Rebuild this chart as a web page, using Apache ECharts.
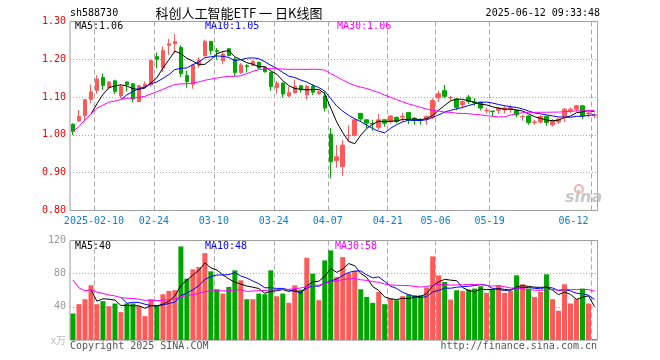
<!DOCTYPE html>
<html><head><meta charset="utf-8">
<script src="https://cdn.jsdelivr.net/npm/echarts@6/dist/echarts.min.js"></script>
<style>html,body{margin:0;padding:0;background:#fff}#c{width:660px;height:360px}</style>
</head><body><div id="c"></div>
<script>
const dates = ['2025-01-27','2025-02-05','2025-02-06','2025-02-07','2025-02-10','2025-02-11','2025-02-12','2025-02-13','2025-02-14','2025-02-17',
'2025-02-18','2025-02-19','2025-02-20','2025-02-21','2025-02-24','2025-02-25','2025-02-26','2025-02-27','2025-02-28','2025-03-03',
'2025-03-04','2025-03-05','2025-03-06','2025-03-07','2025-03-10','2025-03-11','2025-03-12','2025-03-13','2025-03-14','2025-03-17',
'2025-03-18','2025-03-19','2025-03-20','2025-03-21','2025-03-24','2025-03-25','2025-03-26','2025-03-27','2025-03-28','2025-03-31',
'2025-04-01','2025-04-02','2025-04-03','2025-04-07','2025-04-08','2025-04-09','2025-04-10','2025-04-11','2025-04-14','2025-04-15',
'2025-04-16','2025-04-17','2025-04-18','2025-04-21','2025-04-22','2025-04-23','2025-04-24','2025-04-25','2025-04-28','2025-04-29',
'2025-04-30','2025-05-06','2025-05-07','2025-05-08','2025-05-09','2025-05-12','2025-05-13','2025-05-14','2025-05-15','2025-05-16',
'2025-05-19','2025-05-20','2025-05-21','2025-05-22','2025-05-23','2025-05-26','2025-05-27','2025-05-28','2025-05-29','2025-05-30',
'2025-06-03','2025-06-04','2025-06-05','2025-06-06','2025-06-09','2025-06-10','2025-06-11','2025-06-12'];

const opens = [1.028,1.037,1.051,1.094,1.118,1.152,1.125,1.143,1.103,1.140,
1.135,1.088,1.128,1.133,1.207,1.177,1.237,1.241,1.231,1.157,
1.134,1.184,1.209,1.247,1.223,1.196,1.228,1.201,1.165,1.183,
1.184,1.192,1.178,1.165,1.125,1.137,1.103,1.112,1.130,1.106,
1.128,1.109,1.103,1.002,0.932,0.916,0.998,0.999,1.057,1.040,
1.030,1.020,1.040,1.035,1.046,1.047,1.059,1.044,1.040,1.042,
1.047,1.098,1.117,1.098,1.095,1.080,1.100,1.087,1.087,1.064,
1.063,1.065,1.066,1.068,1.065,1.048,1.050,1.033,1.034,1.049,
1.027,1.034,1.049,1.064,1.068,1.077,1.056,1.051];

const closes = [1.009,1.049,1.093,1.114,1.148,1.131,1.140,1.115,1.128,1.133,
1.095,1.130,1.134,1.197,1.200,1.223,1.241,1.247,1.162,1.141,
1.185,1.198,1.247,1.223,1.221,1.214,1.210,1.165,1.185,1.181,
1.194,1.177,1.167,1.128,1.137,1.108,1.112,1.128,1.119,1.128,
1.113,1.114,1.071,0.929,0.942,0.973,0.999,1.040,1.042,1.031,
1.029,1.040,1.031,1.050,1.035,1.049,1.040,1.038,1.039,1.049,
1.091,1.109,1.102,1.099,1.073,1.088,1.088,1.085,1.071,1.065,
1.062,1.071,1.071,1.072,1.053,1.049,1.033,1.034,1.049,1.033,
1.038,1.042,1.068,1.068,1.077,1.050,1.058,1.053];

const lows = [1.000,1.034,1.035,1.084,1.108,1.119,1.120,1.108,1.097,1.115,
1.086,1.087,1.124,1.128,1.177,1.166,1.212,1.216,1.153,1.125,
1.122,1.177,1.208,1.212,1.199,1.187,1.208,1.155,1.161,1.165,
1.182,1.174,1.165,1.117,1.110,1.099,1.100,1.108,1.112,1.093,
1.106,1.106,1.062,0.885,0.913,0.891,0.982,0.996,1.035,1.018,
1.011,1.013,1.022,1.031,1.031,1.035,1.029,1.027,1.027,1.027,
1.042,1.087,1.097,1.091,1.065,1.070,1.082,1.077,1.065,1.057,
1.049,1.056,1.057,1.059,1.047,1.038,1.027,1.027,1.031,1.024,
1.022,1.029,1.034,1.057,1.062,1.042,1.047,1.044];

const highs = [1.031,1.066,1.095,1.133,1.158,1.162,1.142,1.146,1.133,1.141,
1.137,1.132,1.141,1.199,1.218,1.234,1.254,1.266,1.237,1.170,
1.188,1.205,1.252,1.249,1.230,1.219,1.230,1.205,1.190,1.187,
1.198,1.194,1.180,1.167,1.143,1.139,1.128,1.146,1.132,1.132,
1.134,1.118,1.115,1.018,0.973,0.986,1.026,1.044,1.058,1.041,
1.040,1.056,1.041,1.053,1.049,1.059,1.060,1.047,1.044,1.051,
1.097,1.117,1.132,1.103,1.097,1.092,1.106,1.097,1.088,1.072,
1.063,1.073,1.077,1.079,1.068,1.053,1.052,1.040,1.053,1.051,
1.042,1.044,1.071,1.073,1.079,1.078,1.064,1.057];

const volumes = [32,43.2,49.2,66,43.2,46.8,40.8,44,33.6,44,
44,40.8,28.8,49.2,42,55.2,59.2,60,112.8,74,
85.2,88,104.8,82.8,61.2,56,64,84,72,49.2,
49.2,56,55.2,84,52.8,56,44.8,66,60.8,99.2,
80,48,96,108,76,100,80.8,83.2,61.2,52,
44.8,58,43.2,50,48,52.8,54.8,54,54,63.2,
100.8,78,70,48.8,60,59.2,60.8,62,64.8,56.8,
60.8,66,56.8,59.2,78,67.2,62,52,58,79.2,
49.2,35.2,67.2,44,49.2,62,44,1.2];

// the session before the first visible one (used by the moving averages)
const prevClose = 1.009;
const prevVolume = 113;

const tickDates = ['2025-02-10','2025-02-24','2025-03-10','2025-03-24','2025-04-07','2025-04-21','2025-05-06','2025-05-19','2025-06-12'];
const tickLabels = ['2025-02-10','02-24','03-10','03-24','04-07','04-21','05-06','05-19','06-12'];

const priceLegend = ['MA5:1.06','MA10:1.05','MA30:1.06'];
const volumeLegend = ['MA5:40','MA10:48','MA30:58'];

const MONO = '"DejaVu Sans Mono", "Liberation Mono", monospace';
const RED = '#ff5a5a', GREEN = '#00a600';

function movingAverage(values, prev, n, partial) {
  const all = [prev].concat(values);
  return values.map((v, i) => {
    const end = i + 1;
    const count = Math.min(n, end + 1);
    if (count < n && !partial) return null;
    let s = 0;
    for (let k = end - count + 1; k <= end; k++) s += all[k];
    return +(s / count).toFixed(4);
  });
}

const kData = dates.map((d, i) => [opens[i], closes[i], lows[i], highs[i]]);
const volData = volumes.map((v, i) => ({
  value: v,
  itemStyle: { color: closes[i] >= opens[i] ? RED : GREEN }
}));
const tickIdx = tickDates.map(d => dates.indexOf(d));
const showTick = (i) => tickIdx.indexOf(i) >= 0;
const labelFor = (v) => { const k = tickDates.indexOf(v); return k >= 0 ? tickLabels[k] : ''; };

const splitX = { show: true, interval: (i) => showTick(i), lineStyle: { color: '#aaa', type: [5, 3], width: 1 } };

const chart = echarts.init(document.getElementById('c'), null, { renderer: 'canvas' });
chart.setOption({
  animation: false,
  backgroundColor: '#fff',
  grid: [
    { left: 70, top: 21.5, width: 527.5, height: 189, show: true, borderColor: '#999', borderWidth: 1, backgroundColor: 'transparent', containLabel: false, outerBoundsMode: 'none' },
    { left: 70, top: 240.5, width: 527.5, height: 99.5, show: true, borderColor: '#999', borderWidth: 1, backgroundColor: 'transparent', containLabel: false, outerBoundsMode: 'none' }
  ],
  xAxis: [
    { type: 'category', gridIndex: 0, data: dates, boundaryGap: true,
      axisLine: { show: false }, axisTick: { show: false },
      axisLabel: { interval: (i) => showTick(i), formatter: labelFor, color: '#0a7fd0', fontFamily: MONO, fontSize: 10, margin: 6, padding: [0, 6, 0, 0], alignMaxLabel: 'right' },
      splitLine: splitX },
    { type: 'category', gridIndex: 1, data: dates, boundaryGap: true,
      axisLine: { show: false }, axisTick: { show: false }, axisLabel: { show: false },
      splitLine: splitX }
  ],
  yAxis: [
    { type: 'value', gridIndex: 0, min: 0.8, max: 1.3, interval: 0.1,
      axisLine: { show: false }, axisTick: { show: false },
      axisLabel: { color: '#f00000', fontFamily: MONO, fontSize: 10, margin: 4, formatter: (v) => v.toFixed(2) },
      splitLine: { show: true, lineStyle: { color: '#aaa', type: [1, 2], width: 1 } } },
    { type: 'value', gridIndex: 1, min: 0, max: 120, interval: 40,
      axisLine: { show: false }, axisTick: { show: false },
      axisLabel: { color: '#999', fontFamily: MONO, fontSize: 10, margin: 4,
        formatter: (v) => v === 0 ? '{u|x万}' : String(v),
        rich: { u: { color: '#bbb', fontSize: 10, fontFamily: '"Noto Sans CJK SC", sans-serif' } } },
      splitLine: { show: true, lineStyle: { color: '#aaa', type: [1, 2], width: 1 } } }
  ],
  series: [
    { type: 'candlestick', xAxisIndex: 0, yAxisIndex: 0, data: kData, barWidth: 4,
      itemStyle: { color: RED, color0: GREEN, borderColor: RED, borderColor0: GREEN, borderWidth: 1 } },
    { type: 'line', xAxisIndex: 0, yAxisIndex: 0, data: movingAverage(closes, prevClose, 5, false), symbol: 'none', lineStyle: { color: '#000', width: 1 } },
    { type: 'line', xAxisIndex: 0, yAxisIndex: 0, data: movingAverage(closes, prevClose, 10, false), symbol: 'none', lineStyle: { color: '#0000ff', width: 1 } },
    { type: 'line', xAxisIndex: 0, yAxisIndex: 0, data: movingAverage(closes, prevClose, 30, true), symbol: 'none', lineStyle: { color: '#ff00ff', width: 1 } },
    { type: 'bar', xAxisIndex: 1, yAxisIndex: 1, data: volData, barWidth: 5 },
    { type: 'line', xAxisIndex: 1, yAxisIndex: 1, data: movingAverage(volumes, prevVolume, 5, false), symbol: 'none', lineStyle: { color: '#000', width: 1 } },
    { type: 'line', xAxisIndex: 1, yAxisIndex: 1, data: movingAverage(volumes, prevVolume, 10, false), symbol: 'none', lineStyle: { color: '#0000ff', width: 1 } },
    { type: 'line', xAxisIndex: 1, yAxisIndex: 1, data: movingAverage(volumes, prevVolume, 30, true), symbol: 'none', lineStyle: { color: '#ff00ff', width: 1 } }
  ],
  graphic: [
    { type: 'text', left: 70, top: 8, style: { text: 'sh588730', fill: '#000', font: '10px ' + MONO } },
    { type: 'text', x: 239, y: 13, style: { text: '科创人工智能ETF 一 日K线图', fill: '#000', font: '13px "Noto Sans CJK SC", sans-serif', textAlign: 'center', textVerticalAlign: 'middle' } },
    { type: 'text', x: 600, y: 13, style: { text: '2025-06-12 09:33:48', fill: '#000', font: '10px ' + MONO, textAlign: 'right', textVerticalAlign: 'middle' } },
    { type: 'text', x: 75, y: 26.5, style: { text: priceLegend[0], fill: '#000', font: '10px ' + MONO, textVerticalAlign: 'middle' } },
    { type: 'text', x: 205, y: 26.5, style: { text: priceLegend[1], fill: '#0000ff', font: '10px ' + MONO, textVerticalAlign: 'middle' } },
    { type: 'text', x: 337, y: 26.5, style: { text: priceLegend[2], fill: '#ff00ff', font: '10px ' + MONO, textVerticalAlign: 'middle' } },
    { type: 'text', x: 75, y: 246.5, style: { text: volumeLegend[0], fill: '#000', font: '10px ' + MONO, textVerticalAlign: 'middle' } },
    { type: 'text', x: 205, y: 246.5, style: { text: volumeLegend[1], fill: '#0000ff', font: '10px ' + MONO, textVerticalAlign: 'middle' } },
    { type: 'text', x: 335, y: 246.5, style: { text: volumeLegend[2], fill: '#ff00ff', font: '10px ' + MONO, textVerticalAlign: 'middle' } },
    { type: 'text', x: 70, y: 346, style: { text: 'Copyright 2025 SINA.COM', fill: '#555', font: '10px ' + MONO, textVerticalAlign: 'middle' } },
    { type: 'text', x: 597, y: 346, style: { text: 'http://finance.sina.com.cn', fill: '#555', font: '10px ' + MONO, textAlign: 'right', textVerticalAlign: 'middle' } },
    { type: 'circle', shape: { cx: 579, cy: 189, r: 4 }, style: { fill: 'none', stroke: '#f2b4b4', lineWidth: 2 }, z: 0 },
    { type: 'text', x: 565, y: 198, style: { text: 'sina', fill: '#c8c8c8', font: 'italic bold 16px "DejaVu Sans", sans-serif', textVerticalAlign: 'middle' }, z: 0 }
  ]
});
</script>
</body></html>
